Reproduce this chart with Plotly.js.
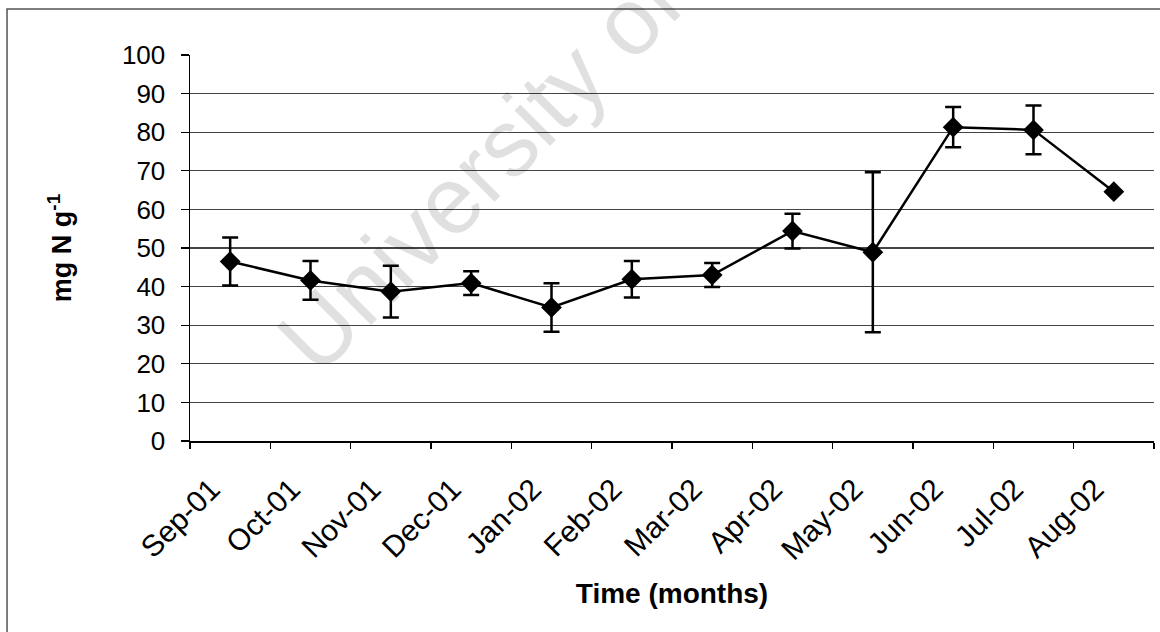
<!DOCTYPE html>
<html>
<head>
<meta charset="utf-8">
<script src="https://cdn.plot.ly/plotly-3.0.1.min.js"></script>
<style>html,body{margin:0;padding:0;background:#fff;}#chart{width:1160px;height:632px;}</style>
</head>
<body>
<div id="chart"></div>
<script>
const months = ['Sep-01','Oct-01','Nov-01','Dec-01','Jan-02','Feb-02','Mar-02','Apr-02','May-02','Jun-02','Jul-02','Aug-02'];
const nitrogen = [46.5, 41.6, 38.7, 40.9, 34.6, 41.9, 43.0, 54.4, 48.9, 81.3, 80.6, 64.6];
const stdErr = [6.2, 5.0, 6.7, 3.1, 6.3, 4.7, 3.1, 4.5, 20.7, 5.2, 6.3, 0];
const yTicks = [0,10,20,30,40,50,60,70,80,90,100];

const FONT = '"Liberation Sans", Arial, Helvetica, sans-serif';

const trace = {
  type: 'scatter',
  mode: 'lines+markers',
  x: months,
  y: nitrogen,
  line: {color: '#000', width: 2.5},
  marker: {symbol: 'diamond', size: 16, color: '#000'},
  error_y: {type: 'data', array: stdErr, visible: true, color: '#000', thickness: 2.5, width: 8},
  showlegend: false,
  cliponaxis: false
};

const layout = {
  width: 1160, height: 632,
  margin: {l: 190, r: 6, t: 55, b: 191},
  paper_bgcolor: '#fff', plot_bgcolor: '#fff',
  font: {family: FONT, color: '#000'},
  xaxis: {
    type: 'category', range: [-0.5, 11.5],
    tickson: 'boundaries', ticks: 'outside', ticklen: 6, tickwidth: 1.2, tickcolor: '#000',
    tickangle: -45, tickfont: {size: 30, family: FONT},
    ticklabelstandoff: 17, ticklabelshift: -19,
    showline: true, linecolor: '#000', linewidth: 1.5,
    showgrid: false, zeroline: false,
    title: {text: '<b>Time (months)</b>', font: {size: 28, family: FONT}, standoff: 18},
    automargin: false
  },
  yaxis: {
    range: [0, 100], tickvals: yTicks, ticktext: yTicks.map(String),
    ticks: 'outside', ticklen: 8, tickwidth: 1.2, tickcolor: '#000',
    tickfont: {size: 26, family: FONT}, ticklabelstandoff: 10,
    showline: true, linecolor: '#000', linewidth: 1.5,
    showgrid: true, gridcolor: '#444', gridwidth: 1.2, zeroline: false,
    title: {text: '<b>mg N g<sup>-1</sup></b>', font: {size: 27, family: FONT}, standoff: 42},
    automargin: false
  },
  shapes: [{
    type: 'rect', xref: 'paper', yref: 'paper',
    x0: -0.1898, x1: 1.02, y0: -0.55, y1: 1.1192,
    line: {color: '#555', width: 1.5}, layer: 'below'
  }],
  annotations: [{
    text: 'University of Cape Town', xref: 'paper', yref: 'paper',
    x: 0.484, y: 1.1596, xanchor: 'center', yanchor: 'middle',
    textangle: -45, showarrow: false,
    font: {family: FONT, size: 95, color: 'rgba(0,0,0,0.12)'}
  }]
};

Plotly.newPlot('chart', [trace], layout, {displayModeBar: false, staticPlot: true});
</script>
</body>
</html>
